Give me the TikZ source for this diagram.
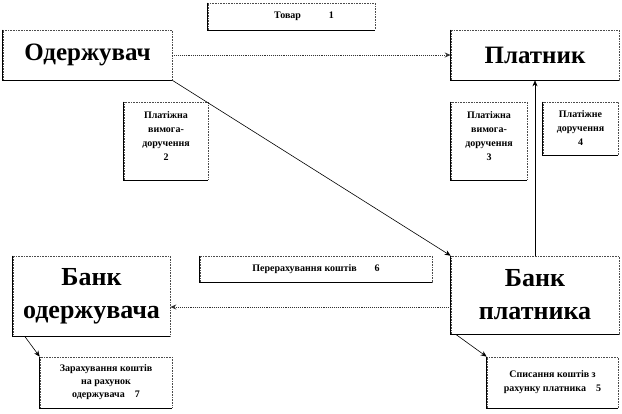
\documentclass[tikz,border=0pt]{standalone}
\usepackage{fontspec}
\setmainfont{Liberation Serif}
\usetikzlibrary{arrows.meta,calc}
\begin{document}
\begin{tikzpicture}[x=1pt,y=-1pt,
  box/.style={draw=black!70, densely dotted, line width=0.6pt, fill=white, align=center, inner sep=2pt, font=\bfseries},
  big/.style={box, font=\bfseries\fontsize{25}{27}\selectfont},
  bank/.style={box, font=\bfseries\fontsize{26}{33}\selectfont},
  small/.style={box, font=\bfseries\fontsize{10}{14}\selectfont},
  dotarrow/.style={draw=black!80, densely dotted, line width=0.9pt, -{Stealth[length=6pt,width=5pt]}},
  solidarrow/.style={draw=black, line width=0.6pt, -{Stealth[length=6pt,width=5pt]}}
]
\useasboundingbox (0,0) rectangle (622,413);
\fill[white] (0,0) rectangle (622,413);

\node[small, minimum width=167pt, minimum height=27pt] (tovar) at (291.5,16.5) {\hspace{2.5em}Товар\hspace{2.8em}1};
\node[big, minimum width=169pt, minimum height=50pt] (oderz) at (87.5,55) {Одержувач};
\node[big, minimum width=168pt, minimum height=50pt] (platnyk) at (535,55) {Платник};
\node[small, minimum width=84pt, minimum height=78pt] (b2) at (166,141) {Платіжна\\вимога-\\доручення\\2\\[-5pt]};
\node[small, minimum width=76pt, minimum height=78pt] (b3) at (489,141) {Платіжна\\вимога-\\доручення\\3\\[-5pt]};
\node[small, minimum width=75pt, minimum height=53pt] (b4) at (580.5,128.5) {Платіжне\\доручення\\4};
\node[small, minimum width=232pt, minimum height=26pt] (b6) at (316,269) {Перерахування коштів\hspace{1.8em}6};
\node[bank, minimum width=157pt, minimum height=80pt] (bankO) at (91.5,296) {Банк\\одержувача};
\node[bank, minimum width=168pt, minimum height=78pt] (bankP) at (535,295) {Банк\\платника};
\node[small, minimum width=132pt, minimum height=51pt, font=\bfseries\fontsize{10}{13}\selectfont] (b7) at (106,382.5) {Зарахування коштів\\на рахунок\\одержувача\hspace{1em}7};
\node[small, minimum width=131pt, minimum height=51pt] (b5) at (552.5,382.5) {Списання коштів з\\рахунку платника\hspace{1em}5};

\foreach \n in {tovar,oderz,platnyk,b2,b3,b4,b6,bankO,bankP,b7,b5}
  \draw[black, line width=0.8pt] (\n.north west) -- (\n.south west) -- (\n.south east);

\draw[dotarrow] (oderz.east) -- (platnyk.west);
\draw[solidarrow] (oderz.south east) -- (bankP.north west);
\draw[solidarrow] (bankP.north) -- (platnyk.south);
\draw[dotarrow] ($(bankP.west)+(0,12)$) -- ($(bankO.east)+(0,11)$);
\coordinate (oS) at ($(bankO.south west)+(12,0)$);
\coordinate (pS) at ($(bankP.south west)+(5,0)$);
\draw[solidarrow] (oS) -- (b7.north west);
\draw[solidarrow] (pS) -- (b5.north west);
\end{tikzpicture}
\end{document}
